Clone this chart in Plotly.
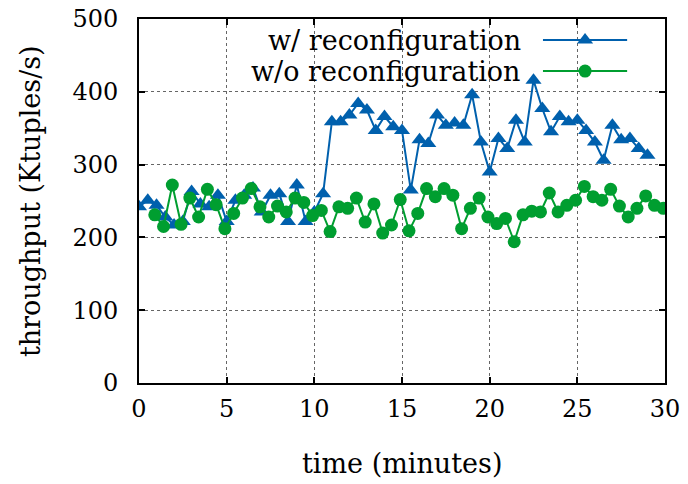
import plotly.graph_objects as go

# ---- data ----
time_w = [0, 0.5, 1, 1.5, 2, 2.5, 3, 3.5, 4, 4.5, 5, 5.5, 6, 6.5, 7, 7.5, 8, 8.5, 9, 9.5,
          10, 10.5, 11, 11.5, 12, 12.5, 13, 13.5, 14, 14.5, 15, 15.5, 16, 16.5, 17, 17.5,
          18, 18.5, 19, 19.5, 20, 20.5, 21, 21.5, 22, 22.5, 23, 23.5, 24, 24.5, 25, 25.5,
          26, 26.5, 27, 27.5, 28, 28.5, 29]
thr_w = [242, 251, 244, 228, 217, 222, 263, 246, 242, 258, 222, 251, 258, 268, 235, 258,
         260, 222, 272, 222, 235, 260, 359, 359, 368, 384, 375, 347, 366, 352, 347, 265,
         334, 329, 368, 354, 357, 354, 396, 331, 290, 336, 322, 361, 331, 416, 377, 345,
         366, 359, 361, 347, 331, 306, 354, 334, 336, 322, 313]

time_wo = [0.9, 1.4, 1.9, 2.4, 2.9, 3.4, 3.9, 4.4, 4.9, 5.4, 5.9, 6.4, 6.9, 7.4, 7.9, 8.4,
           8.9, 9.4, 9.9, 10.4, 10.9, 11.4, 11.9, 12.4, 12.9, 13.4, 13.9, 14.4, 14.9, 15.4,
           15.9, 16.4, 16.9, 17.4, 17.9, 18.4, 18.9, 19.4, 19.9, 20.4, 20.9, 21.4, 21.9,
           22.4, 22.9, 23.4, 23.9, 24.4, 24.9, 25.4, 25.9, 26.4, 26.9, 27.4, 27.9, 28.4,
           28.9, 29.4, 29.9]
thr_wo = [231, 215, 272, 218, 254, 228, 266, 245, 212, 233, 254, 267, 242, 228, 243, 235,
          254, 248, 230, 237, 208, 242, 240, 254, 221, 246, 206, 217, 252, 209, 233, 267,
          256, 267, 258, 212, 240, 254, 228, 219, 226, 194, 231, 236, 235, 261, 235, 244,
          251, 270, 256, 251, 266, 243, 228, 240, 257, 244, 240]

x_ticks = [0, 5, 10, 15, 20, 25, 30]
y_ticks = [0, 100, 200, 300, 400, 500]
series_names = ["w/ reconfiguration", "w/o reconfiguration"]
x_title = "time (minutes)"
y_title = "throughput (Ktuples/s)"

BLUE = "#0060ad"
GREEN = "#009e30"
FONT = "DejaVu Serif"
TXT = 27
TICK = 24

fig = go.Figure()
fig.add_trace(go.Scatter(x=time_w, y=thr_w, mode="lines+markers", name=series_names[0],
                         line=dict(color=BLUE, width=2),
                         marker=dict(symbol="triangle-up", size=14, color=BLUE),
                         showlegend=False))
fig.add_trace(go.Scatter(x=time_wo, y=thr_wo, mode="lines+markers", name=series_names[1],
                         line=dict(color=GREEN, width=2),
                         marker=dict(symbol="circle", size=13, color=GREEN),
                         showlegend=False))

# gnuplot-style key: text on the left, sample on the right (drawn on hidden overlay axes)
key_y = [0.942, 0.857]
key_x0, key_x1, key_xm = 0.768, 0.928, 0.848
for i, (col, sym, sz) in enumerate([(BLUE, "triangle-up", 14), (GREEN, "circle", 13)]):
    fig.add_trace(go.Scatter(x=[key_x0, key_x1], y=[key_y[i], key_y[i]], mode="lines",
                             line=dict(color=col, width=2), xaxis="x2", yaxis="y2",
                             showlegend=False, hoverinfo="skip", cliponaxis=False))
    fig.add_trace(go.Scatter(x=[key_xm], y=[key_y[i]], mode="markers",
                             marker=dict(symbol=sym, size=sz, color=col), xaxis="x2", yaxis="y2",
                             showlegend=False, hoverinfo="skip", cliponaxis=False))
    fig.add_annotation(text=series_names[i], xref="x2", yref="y2", x=0.730, y=key_y[i],
                       xanchor="right", yanchor="middle", showarrow=False,
                       font=dict(family=FONT, size=TXT, color="black"))

# axis titles
fig.add_annotation(text=x_title, xref="paper", yref="paper", x=0.5, y=-0.22,
                   xanchor="center", yanchor="middle", showarrow=False,
                   font=dict(family=FONT, size=TXT, color="black"))
fig.add_annotation(text=y_title, xref="paper", yref="paper", x=-0.207, y=0.5,
                   xanchor="center", yanchor="middle", showarrow=False, textangle=-90,
                   font=dict(family=FONT, size=TXT, color="black"))

axis_common = dict(showline=True, linecolor="black", linewidth=2, mirror="allticks",
                   ticks="inside", ticklen=6, tickwidth=1.5, tickcolor="black",
                   showgrid=True, gridcolor="#666666", griddash="dot", gridwidth=1,
                   zeroline=False, automargin=False, ticklabeloverflow="allow",
                   tickfont=dict(family=FONT, size=TICK, color="black"))

fig.update_layout(
    template="none",
    width=688, height=484,
    margin=dict(l=139, r=23, t=19, b=101, autoexpand=False),
    paper_bgcolor="white", plot_bgcolor="white",
    font=dict(family=FONT, size=TICK, color="black"),
    xaxis=dict(range=[0, 30], tickvals=x_ticks, ticktext=[str(v) for v in x_ticks],
               ticklabelstandoff=3, **axis_common),
    yaxis=dict(range=[0, 500], tickvals=y_ticks, ticktext=[str(v) for v in y_ticks],
               ticklabelstandoff=14, **axis_common),
    xaxis2=dict(range=[0, 1], overlaying="x", visible=False, anchor="y2"),
    yaxis2=dict(range=[0, 1], overlaying="y", visible=False, anchor="x2"),
    showlegend=False,
)

fig.write_html("out.html",
               config={"displayModeBar": False},
               post_script="document.body.style.margin='0';document.body.style.overflow='hidden';")
